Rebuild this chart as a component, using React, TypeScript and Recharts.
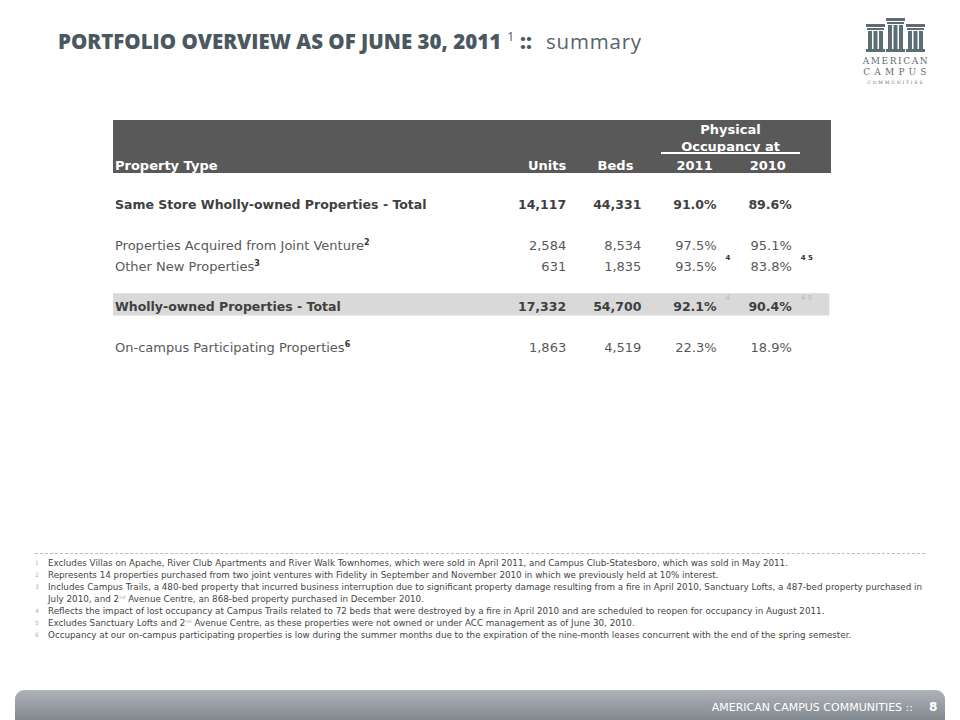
import { ReferenceArea, Scatter, ScatterChart, XAxis, YAxis } from 'recharts';

// table rows
const propertyTypes = [
  'Same Store Wholly-owned Properties - Total',
  'Properties Acquired from Joint Venture',
  'Other New Properties',
  'Wholly-owned Properties - Total',
  'On-campus Participating Properties',
];
const typeNotes = ['', '2', '3', '', '6'];
const totalRows = [true, false, false, true, false];

const columns = ['Units', 'Beds', '2011', '2010'];
const units = [14117, 2584, 631, 17332, 1863];
const beds = [44331, 8534, 1835, 54700, 4519];
const occupancy2011 = [91.0, 97.5, 93.5, 92.1, 22.3];
const occupancy2010 = [89.6, 95.1, 83.8, 90.4, 18.9];
const notes2011 = ['', '', '4', '4', ''];
const notes2010 = ['', '', '4 5', '4 5', ''];

// row slots leave blank lines between the groups
const rowSlot = [0, 2, 3, 5, 7];

const footnotes = [
  ['1', 'Excludes Villas on Apache, River Club Apartments and River Walk Townhomes, which were sold in April 2011, and Campus Club-Statesboro, which was sold in May 2011.'],
  ['2', 'Represents 14 properties purchased from two joint ventures with Fidelity in September and November 2010 in which we previously held at 10% interest.'],
  ['3', 'Includes Campus Trails, a 480-bed property that incurred business interruption due to significant property damage resulting from a fire in April 2010, Sanctuary Lofts, a 487-bed property purchased in'],
  ['', 'July 2010, and 2|nd| Avenue Centre, an 868-bed property purchased in December 2010.'],
  ['4', 'Reflects the impact of lost occupancy at Campus Trails related to 72 beds that were destroyed by a fire in April 2010 and are scheduled to reopen for occupancy in August 2011.'],
  ['5', 'Excludes Sanctuary Lofts and 2|nd| Avenue Centre, as these properties were not owned or under ACC management as of June 30, 2010.'],
  ['6', 'Occupancy at our on-campus participating properties is low during the summer months due to the expiration of the nine-month leases concurrent with the end of the spring semester.'],
];

const FONT = '"DejaVu Sans", Verdana, sans-serif';
const TITLE_FONT = '"Open Sans", "DejaVu Sans", sans-serif';
const Y_AXIS_W = 415.6;
const SLOT_W = 75.2;

const fmtInt = (v: number) => v.toLocaleString('en-US');
const fmtPct = (v: number) => v.toFixed(1) + '%';

const series = [
  { key: 'units', values: units, fmt: fmtInt, notes: null as string[] | null },
  { key: 'beds', values: beds, fmt: fmtInt, notes: null as string[] | null },
  { key: 'occ2011', values: occupancy2011, fmt: fmtPct, notes: notes2011 },
  { key: 'occ2010', values: occupancy2010, fmt: fmtPct, notes: notes2010 },
];

const headerStyle = [
  { anchor: 'end', dx: 0 },
  { anchor: 'end', dx: -8 },
  { anchor: 'middle', dx: -22 },
  { anchor: 'middle', dx: -24 },
];

function CellText(props: any) {
  const { cx, cy, payload } = props;
  const bold = payload.bold;
  return (
    <g>
      <text
        x={cx}
        y={cy}
        dy="0.36em"
        textAnchor="end"
        fontFamily={FONT}
        fontSize={bold ? 12.5 : 13}
        fontWeight={bold ? 'bold' : 'normal'}
        fill={bold ? '#3f3f3f' : '#595959'}
      >
        {payload.label}
      </text>
      {payload.note ? (
        <text
          x={cx + 9}
          y={cy - 6}
          fontFamily={FONT}
          fontSize={7}
          fill={bold ? '#b5b5b5' : '#333333'}
          fontWeight={bold ? 'normal' : 'bold'}
        >
          {payload.note}
        </text>
      ) : null}
    </g>
  );
}

function RowTick(props: any) {
  const { y, payload } = props;
  const i = rowSlot.indexOf(payload.value);
  if (i < 0) return null;
  const bold = totalRows[i];
  return (
    <text
      x={2}
      y={y}
      dy="0.36em"
      textAnchor="start"
      fontFamily={FONT}
      fontSize={bold ? 12.5 : 13}
      fontWeight={bold ? 'bold' : 'normal'}
      fill={bold ? '#3f3f3f' : '#595959'}
    >
      {propertyTypes[i]}
      {typeNotes[i] ? (
        <tspan dy={-5} fontSize={8} fontWeight="bold" fill="#333">
          {typeNotes[i]}
        </tspan>
      ) : null}
    </text>
  );
}

function HeaderTick(props: any) {
  const { x, payload } = props;
  const s = headerStyle[payload.value];
  if (!s) return null;
  return (
    <text
      x={x + s.dx}
      y={45}
      dy="0.36em"
      textAnchor={s.anchor}
      fontFamily={FONT}
      fontSize={13}
      fontWeight="bold"
      fill="#ffffff"
    >
      {columns[payload.value]}
    </text>
  );
}

function Footnote({ text }: { text: string }) {
  const parts = text.split('|');
  return (
    <>
      {parts.map((p, i) =>
        i % 2 === 1 ? (
          <span
            key={i}
            style={{ fontSize: 5, color: '#aaa', verticalAlign: 'top', lineHeight: '8px', display: 'inline-block' }}
          >
            {p}
          </span>
        ) : (
          <span key={i}>{p}</span>
        )
      )}
    </>
  );
}

function Logo() {
  const c = '#5d6d74';
  const group = (x: number, top: number) => (
    <g>
      <rect x={x} y={top} width={19} height={3} fill={c} />
      <rect x={x + 1} y={top + 4} width={17} height={2} fill={c} />
      <rect x={x + 2} y={top + 7} width={4} height={52 - top - 10} fill={c} />
      <rect x={x + 7.5} y={top + 7} width={4} height={52 - top - 10} fill={c} />
      <rect x={x + 13} y={top + 7} width={4} height={52 - top - 10} fill={c} />
      <rect x={x} y={49} width={19} height={3} fill={c} />
    </g>
  );
  return (
    <svg width={960} height={100} style={{ position: 'absolute', left: 0, top: 0 }}>
      {group(866, 24)}
      {group(886, 18)}
      {group(906, 24)}
      <text x={896} y={64} textAnchor="middle" fontFamily='"DejaVu Serif", serif' fontSize={9} letterSpacing={1.6} fill={c}>
        AMERICAN
      </text>
      <text x={897} y={75} textAnchor="middle" fontFamily='"DejaVu Serif", serif' fontSize={9} letterSpacing={4.2} fill={c}>
        CAMPUS
      </text>
      <text x={896} y={84} textAnchor="middle" fontFamily='"DejaVu Serif", serif' fontSize={4.5} letterSpacing={1.8} fill={c}>
        COMMUNITIES
      </text>
    </svg>
  );
}

export default function App() {
  const seriesData = series.map((s, ci) =>
    s.values.map((v, ri) => ({
      x: ci,
      y: rowSlot[ri],
      label: s.fmt(v),
      bold: totalRows[ri],
      note: s.notes ? s.notes[ri] : '',
    }))
  );

  return (
    <div
      style={{
        position: 'absolute',
        left: 0,
        top: 0,
        width: 960,
        height: 720,
        background: '#ffffff',
        overflow: 'hidden',
        fontFamily: FONT,
      }}
    >
      <div
        style={{
          position: 'absolute',
          left: 58,
          top: 27,
          fontFamily: TITLE_FONT,
          fontSize: 20.5,
          color: '#4b5860',
          whiteSpace: 'nowrap',
          lineHeight: '28px',
        }}
      >
        <span style={{ fontWeight: 800 }}>PORTFOLIO OVERVIEW AS OF JUNE 30, 2011</span>
        <span style={{ fontSize: 12, fontWeight: 400, verticalAlign: 'top', lineHeight: '20px', margin: '0 6px 0 6px' }}>1</span>
        <span style={{ fontWeight: 800, marginRight: 14 }}>::</span>
        <span style={{ fontWeight: 400, letterSpacing: 0.8, color: '#56636b' }}>summary</span>
      </div>
      <Logo />

      {/* header band */}
      <div style={{ position: 'absolute', left: 113, top: 120, width: 718, height: 53, background: '#595959' }} />
      <div
        style={{
          position: 'absolute',
          left: 661,
          top: 121,
          width: 139,
          textAlign: 'center',
          color: '#fff',
          fontSize: 13,
          fontWeight: 'bold',
          lineHeight: '17px',
        }}
      >
        Physical
        <br />
        Occupancy at
      </div>
      <div style={{ position: 'absolute', left: 661, top: 152, width: 139, height: 2, background: '#fff' }} />
      <div
        style={{
          position: 'absolute',
          left: 115,
          top: 157,
          color: '#fff',
          fontSize: 13,
          fontWeight: 'bold',
          lineHeight: '17px',
        }}
      >
        Property Type
      </div>

      <div style={{ position: 'absolute', left: 113, top: 120 }}>
        <ScatterChart width={718} height={240} margin={{ top: 0, right: 1.6, bottom: 2.8, left: 0 }}>
          <XAxis
            type="number"
            dataKey="x"
            orientation="top"
            domain={[-0.5, 3.5]}
            ticks={[0, 1, 2, 3]}
            interval={0}
            height={54.5}
            axisLine={false}
            tickLine={false}
            tick={HeaderTick}
          />
          <YAxis
            type="number"
            dataKey="y"
            domain={[-1.5, 7.5]}
            reversed
            ticks={rowSlot}
            interval={0}
            width={Y_AXIS_W}
            axisLine={false}
            tickLine={false}
            tick={RowTick}
          />
          <ReferenceArea
            x1={-0.5 - Y_AXIS_W / SLOT_W}
            x2={3.5}
            y1={4.35}
            y2={5.45}
            ifOverflow="visible"
            fill="#d9d9d9"
            fillOpacity={1}
            stroke="none"
          />
          {seriesData.map((d, i) => (
            <Scatter key={series[i].key} data={d} shape={CellText} isAnimationActive={false} />
          ))}
        </ScatterChart>
      </div>

      {/* footnotes */}
      <div style={{ position: 'absolute', left: 35, top: 553, width: 890, borderTop: '1px dashed #bdbdbd' }} />
      {footnotes.map(([n, t], i) => (
        <div
          key={i}
          style={{
            position: 'absolute',
            left: 0,
            top: 557 + i * 12,
            height: 12,
            fontSize: 8.75,
            lineHeight: '12px',
            color: '#444',
            whiteSpace: 'nowrap',
          }}
        >
          <span style={{ position: 'absolute', left: 35, fontSize: 6, color: '#b0b0b0' }}>{n}</span>
          <span style={{ position: 'absolute', left: 48 }}>
            <Footnote text={t} />
          </span>
        </div>
      ))}

      {/* footer */}
      <div
        style={{
          position: 'absolute',
          left: 15,
          top: 690,
          width: 930,
          height: 32,
          borderRadius: '9px 9px 0 0',
          background: 'linear-gradient(#aeb3b8, #7e868c)',
        }}
      />
      <div
        style={{
          position: 'absolute',
          right: 47,
          top: 701,
          fontSize: 11,
          color: '#fff',
          whiteSpace: 'nowrap',
        }}
      >
        AMERICAN CAMPUS COMMUNITIES ::
      </div>
      <div style={{ position: 'absolute', left: 929, top: 700, fontSize: 12, fontWeight: 'bold', color: '#fff' }}>8</div>
    </div>
  );
}
